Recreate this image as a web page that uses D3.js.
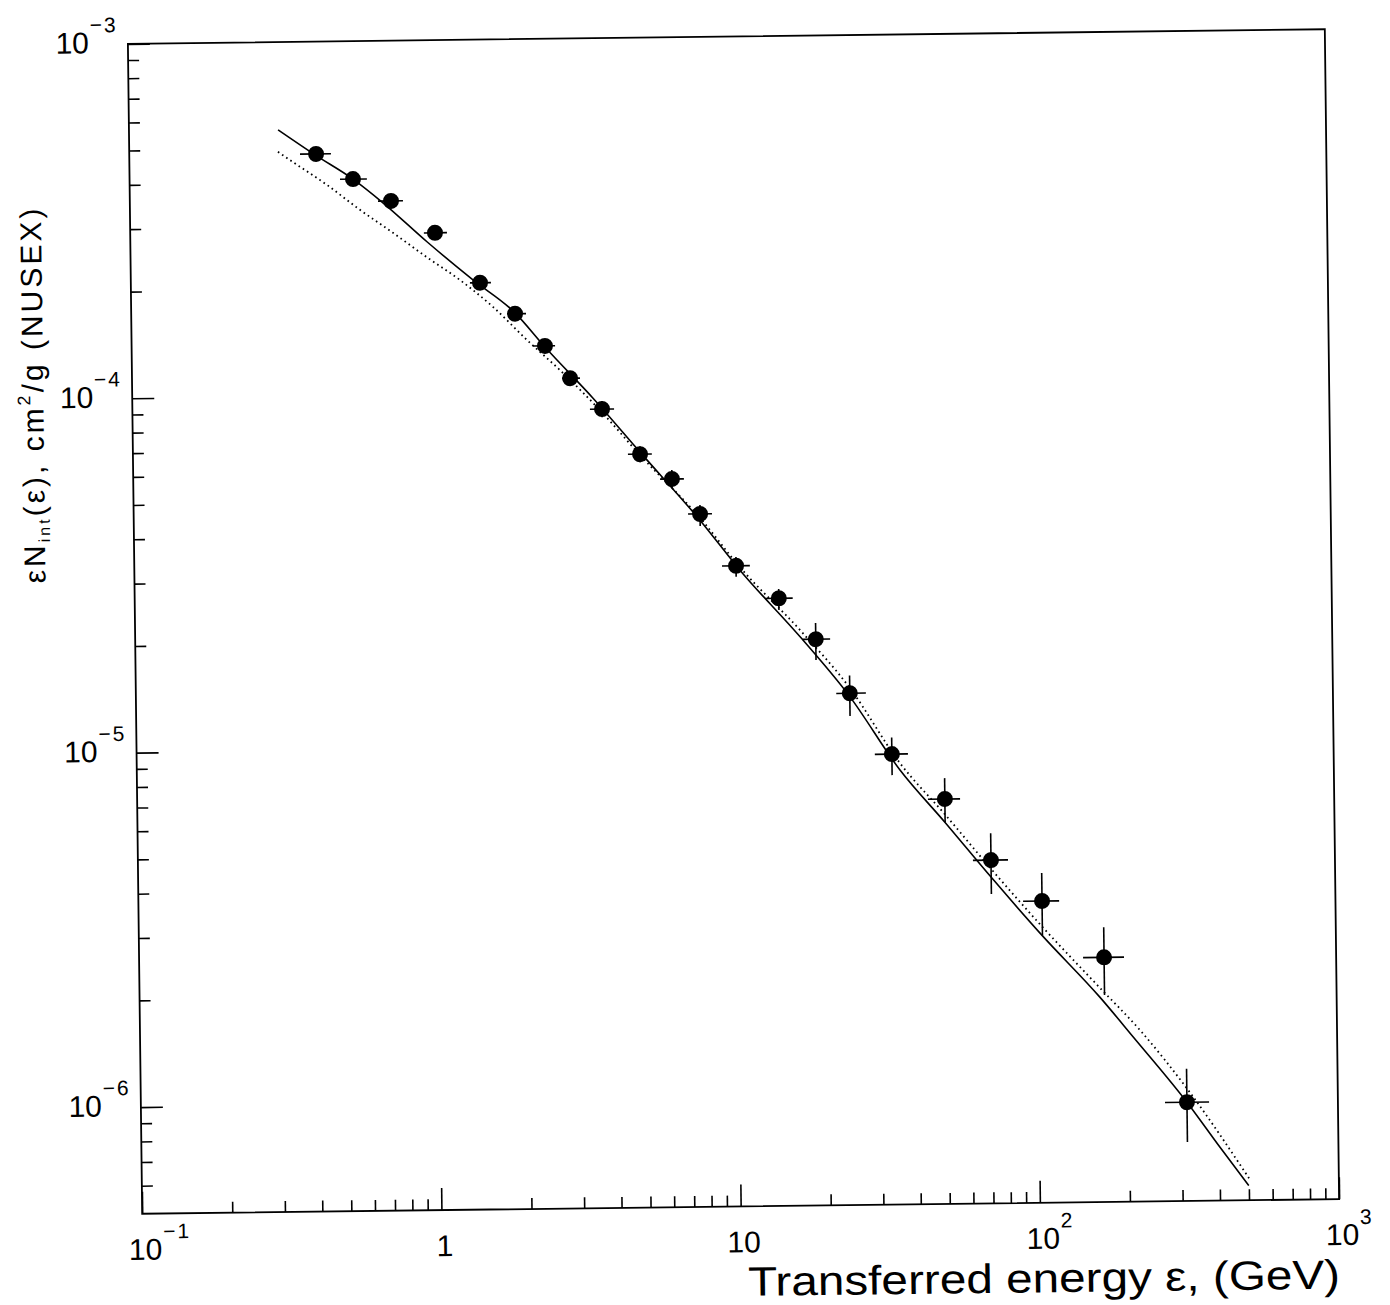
<!DOCTYPE html>
<html><head><meta charset="utf-8">
<script src="https://cdn.jsdelivr.net/npm/d3@7"></script>
<style>
html,body{margin:0;padding:0;background:#fff;}
svg{display:block;}
text{font-family:"Liberation Sans", Arial, sans-serif; fill:#000;}
</style></head>
<body>
<svg id="chart" width="1390" height="1305"></svg>
<script>
// ---- data ----
const energy   = [0.421,0.558,0.746,1.043,1.468,1.917,2.406,2.91,3.71,4.95,6.31,7.81,10.25,14.2,18.8,24.3,33.4,50.0,70.9,104.6,167.7,313];
const flux     = [4.82e-4,4.08e-4,3.53e-4,2.86e-4,2.06e-4,1.68e-4,1.36e-4,1.10e-4,8.98e-5,6.68e-5,5.67e-5,4.51e-5,3.21e-5,2.59e-5,1.98e-5,1.39e-5,9.33e-6,6.94e-6,4.65e-6,3.55e-6,2.45e-6,9.50e-7];
const energyLo = [0.372,0.505,0.675,0.958,1.359,1.803,2.194,2.735,3.38,4.51,5.76,7.12,9.20,12.8,17.0,21.9,29.3,43.9,61.7,90.4,142.7,264.4];
const energyHi = [0.472,0.621,0.818,1.144,1.597,2.086,2.60,3.14,4.07,5.42,6.92,8.56,11.4,15.8,21.0,27.5,37.8,56.2,80.8,119.3,195.5,371.0];
const fluxLo   = [4.66e-4,3.95e-4,3.42e-4,2.77e-4,1.99e-4,1.62e-4,1.31e-4,1.06e-4,8.52e-5,6.34e-5,5.35e-5,4.17e-5,2.99e-5,2.40e-5,1.73e-5,1.20e-5,8.14e-6,5.97e-6,3.73e-6,2.84e-6,1.92e-6,7.33e-7];
const fluxHi   = [4.98e-4,4.22e-4,3.65e-4,2.96e-4,2.13e-4,1.74e-4,1.41e-4,1.14e-4,9.46e-5,7.03e-5,6.01e-5,4.78e-5,3.40e-5,2.75e-5,2.20e-5,1.56e-5,1.04e-5,7.95e-6,5.54e-6,4.26e-6,2.98e-6,1.18e-6];

const solidE  = [0.315,0.4175,0.558,0.701,0.980,1.391,1.917,2.406,3.46,4.95,7.80,10.56,16.7,24.3,35.5,49.9,71.4,104.3,162,208,313,402,500];
const solidF  = [5.65e-4,4.79e-4,4.08e-4,3.49e-4,2.70e-4,2.10e-4,1.69e-4,1.35e-4,9.66e-5,6.77e-5,4.33e-5,3.12e-5,2.01e-5,1.36e-5,8.41e-6,5.97e-6,4.13e-6,2.84e-6,1.89e-6,1.46e-6,9.50e-7,7.07e-7,5.5e-7];
const dottedE = [0.314,0.352,0.456,0.587,0.755,0.979,1.259,1.618,2.096,2.695,3.65,4.95,7.81,10.56,16.7,24.3,35.5,49.9,71.4,104.3,162,220,321,501];
const dottedF = [4.90e-4,4.58e-4,3.94e-4,3.34e-4,2.87e-4,2.44e-4,2.10e-4,1.76e-4,1.415e-4,1.16e-4,8.92e-5,6.64e-5,4.39e-5,3.18e-5,2.10e-5,1.44e-5,8.80e-6,6.29e-6,4.36e-6,3.01e-6,2.01e-6,1.52e-6,1.01e-6,5.77e-7];

const xTickValues = [0.1, 1, 10, 100, 1000];
const xTickBase   = ["10", "1", "10", "10", "10"];
const xTickExp    = ["−1", "", "", "2", "3"];
const yTickValues = [1e-3, 1e-4, 1e-5, 1e-6];
const yTickBase   = ["10", "10", "10", "10"];
const yTickExp    = ["−3", "−4", "−5", "−6"];
const xTitle = "Transferred energy ε, (GeV)";

// ---- layout ----
const W = 1390, H = 1305;
const frame = {left:135, right:1332, top:36.5, bottom:1206.5};
const x = d3.scaleLog().domain([0.1, 1000]).range([frame.left, frame.right]);
const y = d3.scaleLog().domain([5e-7, 1e-3]).range([frame.bottom, frame.top]);

const svg = d3.select("#chart");
svg.append("rect").attr("width", W).attr("height", H).attr("fill", "#fff");
const g = svg.append("g").attr("transform", "rotate(-0.7 733.5 621.5)");

function minorTicks(lo, hi) {
  const out = [];
  for (let e = Math.floor(Math.log10(lo)); e <= Math.ceil(Math.log10(hi)); e++) {
    for (let m = 2; m <= 9; m++) {
      const v = m * Math.pow(10, e);
      if (v > lo * 1.0001 && v < hi * 0.9999) out.push(v);
    }
  }
  return out;
}
const xMinor = minorTicks(0.1, 1000);
const yMinor = minorTicks(5e-7, 1e-3);

function styleAxis(sel) {
  sel.select(".domain").remove();
  sel.selectAll("line").attr("stroke", "#000").attr("stroke-width", 1.6);
  sel.selectAll("text").remove();
}
g.append("g").attr("transform", `translate(0,${frame.bottom})`)
  .call(d3.axisBottom(x).tickValues(xMinor).tickSize(-11).tickFormat("")).call(styleAxis);
g.append("g").attr("transform", `translate(0,${frame.bottom})`)
  .call(d3.axisBottom(x).tickValues(xTickValues).tickSize(-22).tickFormat("")).call(styleAxis);
g.append("g").attr("transform", `translate(${frame.left},0)`)
  .call(d3.axisLeft(y).tickValues(yMinor).tickSize(-11).tickFormat("")).call(styleAxis);
g.append("g").attr("transform", `translate(${frame.left},0)`)
  .call(d3.axisLeft(y).tickValues(yTickValues).tickSize(-22).tickFormat("")).call(styleAxis);

g.append("rect")
  .attr("x", frame.left).attr("y", frame.top)
  .attr("width", frame.right - frame.left).attr("height", frame.bottom - frame.top)
  .attr("fill", "none").attr("stroke", "#000").attr("stroke-width", 1.8);

// superscript helper: minus + digit placed right after the base text
function addExp(x0, yBase, s) {
  if (!s) return;
  const t = g.append("text").attr("x", x0).attr("y", yBase - 21).attr("font-size", 21);
  if (s.startsWith("−")) {
    t.append("tspan").text("−");
    t.append("tspan").attr("dx", 2).text(s.slice(1));
  } else {
    t.append("tspan").text(s);
  }
}

// x tick labels
xTickValues.forEach((v, i) => {
  const cx = x(v) + 3;
  const yb = frame.bottom + 46;
  const base = g.append("text").attr("x", cx).attr("y", yb)
    .attr("text-anchor", "middle").attr("font-size", 30).text(xTickBase[i]);
  const w = base.node().getComputedTextLength();
  addExp(cx + w / 2 + 1, yb, xTickExp[i]);
});

// y tick labels
yTickValues.forEach((v, i) => {
  const yb = y(v) + 9;
  g.append("text").attr("x", 96).attr("y", yb).attr("text-anchor", "end")
    .attr("font-size", 30).text(yTickBase[i]);
  addExp(97, yb, yTickExp[i]);
});

// axis titles
g.append("text").attr("x", frame.right).attr("y", 1296)
  .attr("text-anchor", "end").attr("font-size", 41)
  .attr("textLength", 592).attr("lengthAdjust", "spacingAndGlyphs").text(xTitle);

const yt = g.append("text").attr("transform", "translate(46,386) rotate(-90)")
  .attr("text-anchor", "middle").attr("font-size", 30);
yt.append("tspan").text("εN");
yt.append("tspan").attr("font-size", 16).attr("dy", 5).text("int");
yt.append("tspan").attr("dy", -5).text("(ε), cm");
yt.append("tspan").attr("font-size", 18).attr("dy", -13).text("2");
yt.append("tspan").attr("dy", 13).text("/g (NUSEX)");
{
  const L = yt.node().getComputedTextLength();
  const n = "εNint(ε), cm2/g (NUSEX)".length;
  yt.attr("letter-spacing", Math.max(0, (378 - L) / n).toFixed(2) + "px");
}

// curves
const line = d3.line().x(d => x(d[0])).y(d => y(d[1])).curve(d3.curveMonotoneX);
g.append("path").datum(dottedE.map((e, i) => [e, dottedF[i]]))
  .attr("d", line).attr("fill", "none").attr("stroke", "#000")
  .attr("stroke-width", 1.8).attr("stroke-dasharray", "1.6,3.4");
g.append("path").datum(solidE.map((e, i) => [e, solidF[i]]))
  .attr("d", line).attr("fill", "none").attr("stroke", "#000").attr("stroke-width", 1.6);

// data points with error bars
const pts = energy.map((e, i) => ({e, f: flux[i], eLo: energyLo[i], eHi: energyHi[i], fLo: fluxLo[i], fHi: fluxHi[i]}));
const pg = g.append("g");
pg.selectAll("line.h").data(pts).join("line").attr("class", "h")
  .attr("x1", d => x(d.eLo)).attr("x2", d => x(d.eHi))
  .attr("y1", d => y(d.f)).attr("y2", d => y(d.f))
  .attr("stroke", "#000").attr("stroke-width", 1.6);
pg.selectAll("line.v").data(pts).join("line").attr("class", "v")
  .attr("x1", d => x(d.e)).attr("x2", d => x(d.e))
  .attr("y1", d => y(d.fLo)).attr("y2", d => y(d.fHi))
  .attr("stroke", "#000").attr("stroke-width", 1.6);
pg.selectAll("circle").data(pts).join("circle")
  .attr("cx", d => x(d.e)).attr("cy", d => y(d.f)).attr("r", 8).attr("fill", "#000");
</script>
</body></html>
